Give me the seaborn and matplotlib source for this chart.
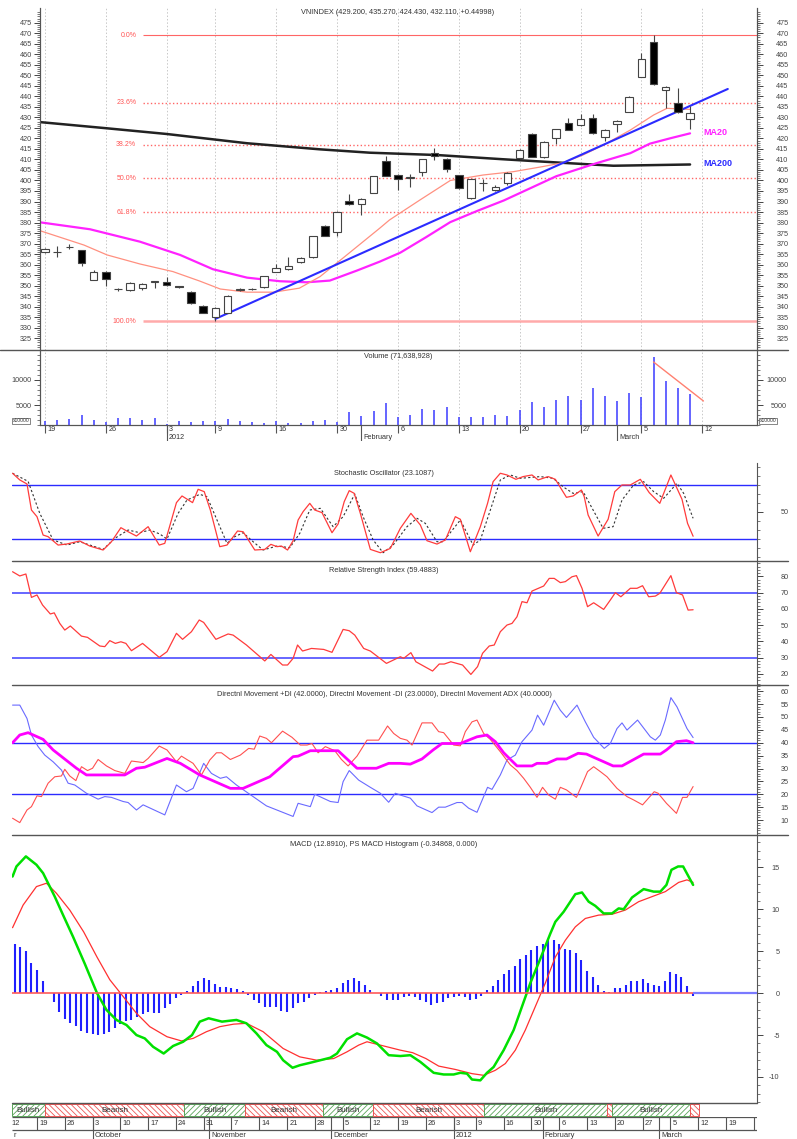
import matplotlib
matplotlib.use("Agg")
import matplotlib.pyplot as plt
from matplotlib.lines import Line2D
from matplotlib.patches import Rectangle
from matplotlib.ticker import FixedLocator
import seaborn as sns
import pandas as pd

# ---------------- price panel data (trading days, 0 = 19 Dec 2011) ----------------
opens = [366.0, 365.8, 368.2, 366.8, 352.7, 356.4, 348.6, 348.0, 349.0, 351.8,
         351.6, 349.6, 347.0, 340.5, 335.3, 337.2, 348.0, 348.3, 349.5, 356.7,
         357.8, 361.1, 363.5, 378.4, 375.4, 390.4, 388.8, 394.2, 409.4, 402.6,
         401.4, 404.2, 413.2, 410.2, 402.6, 391.5, 399.0, 395.5, 398.7, 410.6,
         422.0, 411.0, 420.0, 427.2, 426.4, 429.6, 420.5, 426.9, 432.7, 449.3,
         466.0, 443.0, 436.7, 429.2]
highs = [368.0, 369.0, 369.7, 367.0, 357.2, 356.8, 349.0, 351.8, 351.2, 352.3,
         354.3, 349.9, 347.5, 340.6, 339.8, 345.5, 348.7, 349.0, 354.8, 360.5,
         363.6, 363.5, 373.8, 378.6, 385.4, 393.8, 391.5, 402.3, 411.6, 403.0,
         403.2, 410.3, 415.3, 410.5, 402.8, 400.9, 400.6, 397.8, 404.0, 415.0,
         422.7, 418.6, 424.6, 429.9, 431.5, 431.5, 424.3, 428.7, 440.0, 460.5,
         469.0, 444.8, 443.8, 435.27]
lows = [365.5, 363.5, 367.4, 359.5, 352.5, 350.0, 347.3, 347.5, 347.9, 349.0,
        350.0, 349.1, 341.4, 337.0, 333.4, 337.0, 347.5, 347.8, 349.0, 356.3,
        357.5, 360.9, 363.3, 373.4, 373.8, 388.5, 383.6, 394.0, 402.0, 395.5,
        396.8, 402.3, 409.7, 404.2, 395.8, 391.3, 395.2, 394.8, 398.0, 410.3,
        411.0, 410.8, 417.3, 423.8, 426.0, 422.0, 418.9, 423.2, 432.5, 449.0,
        445.5, 434.3, 432.0, 424.43]
closes = [367.6, 366.0, 368.4, 361.0, 356.7, 353.2, 348.2, 351.3, 350.7, 352.1,
          350.3, 349.4, 341.6, 337.2, 339.5, 345.2, 348.2, 348.5, 354.6, 358.3,
          359.5, 363.0, 373.6, 373.6, 385.2, 388.7, 391.1, 402.1, 402.3, 400.7,
          401.6, 410.1, 411.8, 405.5, 396.3, 400.7, 398.6, 397.0, 403.7, 414.5,
          411.3, 418.4, 424.3, 424.0, 429.1, 422.7, 424.0, 428.5, 439.8, 457.6,
          445.7, 444.6, 432.4, 432.11]
volumes = [1800, 2000, 2200, 3000, 2000, 1700, 2470, 2470, 2000, 2470,
           1200, 1800, 1530, 1800, 1750, 2200, 1800, 1700, 1470, 1800,
           1470, 1500, 1800, 1930, 1700, 3670, 2870, 3870, 5470, 2600,
           3000, 4130, 4000, 4530, 2530, 2600, 2600, 3000, 2800, 4000,
           5670, 4600, 5930, 6800, 6000, 8470, 6800, 5870, 7470, 6530,
           14530, 9870, 8330, 7164]

ma10_pts = [(-0.4, 376.1), (3.2, 369.3), (5.1, 364.6), (7.8, 360.3), (10.5, 356.7),
            (12.7, 352.2), (14.4, 348.4), (16.6, 346.9), (18.8, 346.9), (20.9, 348.8),
            (22.6, 354.3), (24.8, 364.6), (27.5, 377.3), (28.3, 381.2), (30.8, 390.7),
            (33.3, 400.0), (36.0, 402.6), (38.5, 404.2), (40.9, 406.6), (42.6, 408.5),
            (44.2, 412.1), (45.9, 416.9), (48.1, 424.0), (50.0, 431.1), (51.1, 434.3),
            (53.0, 433.8)]
ma20_pts = [(-0.4, 380.1), (3.7, 376.8), (7.8, 370.9), (11.1, 364.6), (13.8, 357.8),
            (16.6, 353.8), (19.3, 352.1), (21.5, 351.6), (23.4, 352.4), (25.6, 357.1),
            (27.5, 361.4), (29.2, 365.7), (31.3, 373.0), (33.3, 380.2), (35.5, 385.5),
            (37.7, 390.5), (42.0, 402.0), (45.3, 408.2), (48.1, 413.0), (49.7, 417.5),
            (51.4, 420.1), (53.0, 422.4)]
ma200_pts = [(-0.5, 427.8), (5.1, 424.8), (10.0, 422.1), (16.6, 417.7), (22.6, 414.8),
             (26.7, 413.2), (32.2, 412.1), (37.6, 410.1), (43.1, 408.2), (46.7, 407.0),
             (53.0, 407.6)]
trend_pts = [(14.0, 334.2), (56.1, 443.5)]
vol_trend_pts = [(50.0, 13600), (54.1, 5800)]

fib_levels = [469.0, 436.9, 417.0, 401.0, 385.0, 333.1]
fib_labels = ['0.0%', '23.6%', '38.2%', '50.0%', '61.8%', '100.0%']

top_tick_days = [0, 5, 10, 14, 19, 24, 29, 34, 39, 44, 49, 54]
top_tick_labels = ['19', '26', '3', '9', '16', '30', '6', '13', '20', '27', '5', '12']
top_month_days = [10, 26, 47]
top_month_labels = ['2012', 'February', 'March']

# ---------------- indicator data (trading days, 0 = 12 Sep 2011) ----------------
stoch_k = [(0.6, 93), (1.9, 85.6), (3.2, 81.1), (4.0, 52.2), (5.0, 44.8), (6.1, 24.4),
           (7.0, 22.6), (8.8, 13.3), (10.3, 14.4), (12.7, 17.8), (14.5, 12.2), (16.9, 7.8),
           (18.4, 17), (20.1, 32.6), (21.4, 28.1), (22.9, 23.3), (25.0, 33.7), (27.0, 13.3),
           (28.0, 15.2), (30.1, 60.4), (31.1, 67.8), (33.0, 60.4), (34.0, 75.2), (35.1, 72.6),
           (36.2, 52.2), (37.9, 11.5), (39.2, 13.3), (41.1, 28.9), (42.1, 28.1), (44.2, 7.8),
           (46.0, 8.5), (47.1, 14.1), (48.2, 11.5), (49.0, 12.2), (50.1, 7.8), (51.1, 18.1),
           (52.0, 41.1), (52.9, 50.4), (54.1, 59.6), (55.0, 52.2), (56.3, 49.3), (58.1, 27),
           (59.2, 36.7), (60.3, 61.5), (61.2, 73.7), (62.1, 70.7), (63.2, 48.5), (65.0, 8.5),
           (66.8, 4.8), (68.6, 9.6), (70.4, 31.9), (72.3, 48.5), (74.0, 35.6), (75.2, 18.1),
           (77.0, 14.4), (78.5, 18.9), (80.3, 44.8), (81.2, 41.9), (83.0, 5.9), (84.8, 33.7),
           (86.1, 59.6), (87.1, 83.7), (88.4, 93), (89.6, 91.1), (91.2, 86.3), (92.5, 89.3),
           (94.1, 91.1), (95.2, 85.6), (97.0, 89.3), (98.3, 86.3), (100.3, 66.3), (101.5, 67.8),
           (103.0, 74.4), (103.5, 67), (104.2, 46.7), (105.2, 33.7), (106.0, 23.3), (107.8, 41.9),
           (109.0, 72.6), (110.3, 80), (111.8, 80), (113.6, 86.3), (115.2, 71.5), (117.1, 59.6),
           (119.1, 91.1), (121.1, 64.1), (122.1, 37.4), (123.1, 23.1)]
stoch_d = [(0.6, 93), (3.4, 84), (5.5, 48.5), (7.9, 19), (10.4, 13.3), (12.7, 17),
           (16.9, 8.5), (19.0, 20.7), (21.4, 30), (23.5, 27), (25.3, 30), (27.1, 25.6),
           (28.4, 20), (30.4, 48.5), (32.0, 63.3), (34.3, 69.6), (35.6, 67), (37.4, 41.1),
           (39.2, 15.2), (40.6, 22.6), (42.1, 27), (43.9, 17), (45.7, 7.8), (48.2, 12.2),
           (50.5, 10.4), (52.3, 26.3), (54.1, 52.2), (56.0, 54.1), (58.3, 33.7), (60.1, 44.8),
           (62.2, 70), (63.7, 44.8), (65.5, 19), (67.3, 4.8), (69.1, 13.3), (71.6, 33.7),
           (73.4, 43), (74.9, 37.4), (77.0, 17), (78.1, 17), (81.2, 41.1), (83.5, 13.3),
           (84.8, 18.9), (86.6, 52.2), (88.4, 85.6), (90.2, 91.1), (92.0, 87.4), (95.6, 89.3),
           (97.9, 87.4), (99.7, 78), (101.5, 70.7), (103.3, 72.6), (105.1, 52.2), (106.9, 31.9),
           (108.7, 33.7), (110.3, 63.3), (112.4, 80), (114.2, 83.7), (116.0, 72.6), (117.8, 65.2),
           (120.2, 81.9), (121.4, 70.7), (123.1, 43)]

rsi = [(0.6, 82.9), (1.9, 80.3), (3.0, 81.5), (4.0, 67.1), (5.0, 68.6), (6.0, 62.4),
       (7.4, 56.9), (8.1, 57.6), (9.1, 51.1), (10.0, 47), (11.0, 49.5), (13.0, 43.3),
       (14.1, 42.5), (16.3, 37.2), (17.2, 36.8), (18.1, 40.5), (19.1, 38.8), (20.1, 39.8),
       (21.0, 38.8), (22.0, 34.3), (24.0, 38.8), (27.0, 30.2), (28.4, 33.7), (30.1, 45),
       (31.2, 41.3), (32.8, 46), (34.2, 53.2), (35.0, 51.7), (37.2, 41.3), (39.4, 44.6),
       (40.3, 43.9), (42.7, 37.8), (46.0, 28), (47.1, 32), (49.2, 25.5), (50.1, 25.5),
       (51.1, 29.6), (51.9, 37.8), (52.8, 34.1), (54.4, 35.7), (56.6, 35.1), (58.1, 33.3),
       (60.1, 47.4), (61.2, 46.6), (62.2, 43.9), (63.8, 35.7), (65.0, 34.1), (67.9, 26.5),
       (70.4, 30.6), (71.0, 29.6), (72.3, 33.1), (73.2, 27.5), (76.2, 21.8), (77.4, 26.1),
       (78.3, 26.1), (79.5, 27.5), (81.6, 25.5), (83.1, 19.7), (84.3, 24.5), (85.2, 32.7),
       (86.4, 37.2), (87.3, 37.8), (88.4, 46), (89.6, 50.1), (90.5, 51.1), (91.4, 55.2),
       (92.3, 64.5), (93.2, 63.8), (94.1, 71), (96.2, 74.1), (97.2, 78.8), (98.1, 78.8),
       (99.2, 76.2), (100.1, 76.8), (101.3, 79.8), (102.1, 80.5), (103.1, 72.7), (104.1, 61.4),
       (105.2, 63.8), (107.0, 59.7), (108.2, 65.5), (109.1, 70), (110.1, 67.5), (111.8, 72.7),
       (113.0, 72.7), (114.0, 74.3), (115.1, 67.5), (116.3, 67.9), (117.1, 69.6), (119.1, 80.5),
       (120.1, 70), (121.2, 68.6), (122.2, 59.3), (123.1, 59.5)]

plus_di = [(0.6, 54.6), (1.9, 54.6), (3.2, 49.4), (4.0, 43), (5.2, 38.5), (6.4, 35.2),
           (7.9, 32.6), (9.4, 29.4), (10.6, 24.3), (11.8, 23.6), (13.9, 20.4), (16.0, 18.1),
           (17.2, 19.1), (18.4, 18.8), (20.5, 17.2), (21.4, 16.8), (22.9, 13.9), (24.1, 15.9),
           (28.0, 12), (30.1, 23.6), (31.9, 21), (33.1, 22.3), (35.0, 32), (36.4, 28.1),
           (38.0, 26.2), (39.1, 26.8), (40.9, 23.6), (43.9, 19.1), (46.3, 15.5), (51.1, 11.4),
           (52.0, 16.5), (54.2, 15.2), (55.0, 20), (57.8, 17.2), (59.2, 16.8), (60.1, 24.9),
           (61.2, 29.2), (62.9, 25.5), (65.0, 22.7), (66.8, 20.4), (68.3, 16.9), (69.5, 20.4),
           (70.4, 19.7), (72.2, 18.5), (73.4, 15.5), (76.1, 12.9), (77.3, 15), (78.5, 15),
           (80.6, 16.8), (81.5, 16.8), (82.7, 14.6), (84.2, 13), (86.1, 22.7), (86.9, 21.9),
           (88.4, 27.5), (89.6, 33.3), (91.1, 35.2), (92.3, 40.4), (94.1, 44.9), (95.1, 50.7),
           (96.2, 46.8), (98.1, 56.5), (99.2, 52.6), (100.3, 49.8), (102.2, 54.6), (103.7, 48.1),
           (105.2, 42.1), (107.1, 37.8), (108.2, 39.7), (109.4, 45.5), (110.3, 47.7), (111.2, 44.9),
           (113.1, 48.8), (115.4, 42.3), (116.3, 41), (117.2, 43), (118.1, 48.8), (119.1, 57.5),
           (120.2, 53.9), (122.0, 45.5), (123.1, 42)]
minus_di = [(0.6, 10.7), (1.9, 9), (3.2, 13.9), (4.0, 15.2), (5.0, 19.4), (5.8, 19.1),
            (7.0, 24.3), (8.2, 26.8), (9.4, 27.1), (10.0, 29.7), (10.9, 27.1), (12.0, 25.3),
            (13.0, 30.7), (14.1, 29.2), (15.0, 30.1), (16.0, 33.5), (17.5, 31), (19.0, 29.2),
            (20.8, 28.1), (22.0, 32.9), (23.1, 32.6), (24.1, 32.3), (25.0, 33.9), (27.0, 38.7),
            (28.4, 37.2), (30.1, 32.6), (31.0, 34.8), (33.1, 32), (34.6, 27.5), (36.1, 33.3),
            (37.3, 36.1), (38.2, 36.1), (39.8, 33.5), (41.6, 35.2), (43.1, 37.8), (44.1, 37.5),
            (45.1, 42.6), (46.3, 41.7), (47.2, 40), (49.2, 44.5), (50.9, 42.1), (52.4, 39.1),
            (53.6, 39.1), (54.5, 39.7), (55.6, 36.1), (56.9, 38.5), (58.6, 36.9), (59.8, 33.5),
            (61.0, 31), (62.6, 34.8), (64.4, 41), (66.5, 41), (68.1, 46.5), (69.2, 43.6),
            (70.4, 41.7), (71.6, 41), (72.5, 39.1), (74.3, 47.7), (76.1, 47.7), (77.3, 44.3),
            (78.2, 43.9), (80.0, 39.1), (81.2, 38.8), (82.1, 44.3), (83.3, 48.1), (84.2, 48.8),
            (85.4, 43.6), (86.6, 41.3), (88.4, 36.5), (90.2, 31.4), (91.4, 29.2), (92.6, 26.2),
            (93.8, 22.7), (95.0, 18.8), (96.0, 22.7), (97.1, 19.7), (98.3, 18.1), (99.2, 22.7),
            (100.3, 21.7), (102.1, 18.8), (103.0, 23.2), (104.1, 28.8), (105.2, 30.7), (106.4, 28.8),
            (107.6, 26.8), (109.4, 22.3), (111.2, 19.1), (112.4, 17.8), (114.0, 15.9), (116.1, 21),
            (116.8, 20.4), (118.3, 16.5), (120.1, 12.6), (121.2, 18.8), (122.0, 18.8), (123.1, 23)]
adx = [(0.6, 40), (1.9, 43), (3.4, 43.9), (6.1, 41.3), (7.9, 37.2), (12.1, 30.1),
       (13.9, 27.5), (20.8, 27.5), (22.9, 30.1), (24.4, 30.5), (28.4, 33.9), (30.8, 32),
       (34.3, 27.5), (39.8, 22.3), (42.1, 22.3), (46.9, 26.8), (51.1, 34.6), (52.0, 34.8),
       (54.2, 36.9), (59.2, 36.9), (62.6, 30.1), (66.1, 30.1), (68.3, 32), (70.4, 32),
       (72.2, 31.7), (74.3, 33.7), (76.3, 37.2), (77.9, 39.7), (81.2, 39.7), (84.2, 42.3),
       (86.0, 43), (87.5, 40.4), (89.0, 36.1), (91.4, 31), (94.1, 31), (95.0, 32),
       (96.8, 32), (98.6, 33.7), (100.3, 33.7), (102.4, 35.9), (103.9, 35.6), (108.7, 31),
       (110.3, 31), (114.2, 35.6), (117.2, 35.6), (118.3, 37.2), (120.1, 40.4), (121.9, 40.8),
       (123.1, 40)]

macd = [(0.6, 13.9), (1.3, 15.1), (3.0, 16.3), (4.9, 15.3), (6.1, 14.3), (8.2, 11.5),
        (9.7, 9.3), (11.5, 6.7), (13.6, 3.5), (15.8, 0), (17.5, -2), (19.3, -3.2),
        (21.1, -3.8), (22.9, -5), (24.4, -5.4), (25.9, -6.4), (27.8, -7.2), (29.5, -6.3),
        (31.3, -5.8), (32.9, -5), (34.3, -3.4), (35.9, -3), (38.3, -3.4), (40.9, -3.2),
        (42.7, -3.6), (44.5, -4.8), (46.3, -6.2), (48.2, -7), (49.3, -8), (51.0, -8.9),
        (52.3, -8.6), (54.2, -8.3), (57.8, -7.7), (59.0, -7.2), (60.8, -5.5), (62.6, -4.8),
        (64.4, -5.3), (66.2, -6), (68.3, -7.4), (70.4, -7.5), (72.2, -7.4), (74.0, -8.2),
        (76.4, -9.5), (78.2, -9.7), (80.0, -9.7), (81.2, -9.5), (82.4, -9.6), (83.3, -10.3),
        (84.8, -10.4), (86.0, -9.5), (87.2, -8.8), (89.0, -6.8), (90.8, -4.4), (92.3, -1.6),
        (93.8, 1.2), (95.6, 4.1), (97.4, 7.1), (98.3, 8.5), (99.8, 9.7), (101.9, 11.8),
        (103.1, 12), (104.3, 10.9), (105.5, 10.4), (107.0, 9.5), (108.5, 9.5), (109.7, 10.1),
        (110.6, 10), (112.1, 11.4), (114.2, 12.4), (116.0, 12.1), (117.2, 12.1), (118.3, 12.9),
        (119.2, 14.7), (120.4, 15.1), (121.3, 15.1), (123.1, 12.9)]
macd_signal = [(0.6, 7.8), (2.5, 10.5), (4.9, 12.7), (6.7, 13.1), (8.5, 11.9), (10.9, 9.9),
               (13.4, 7.3), (15.8, 4.3), (18.1, 1.6), (20.5, -0.4), (22.9, -2.4), (25.3, -4),
               (28.4, -5.2), (31.0, -5.7), (33.1, -5.4), (35.5, -4.6), (37.9, -4), (40.4, -3.7),
               (42.7, -3.6), (45.7, -4.6), (49.3, -6.6), (52.3, -7.6), (55.4, -8), (58.4, -7.8),
               (60.8, -7), (62.9, -6.2), (64.4, -5.8), (67.4, -6.3), (70.4, -6.8), (72.6, -7.1),
               (75.0, -7.8), (77.3, -8.7), (80.3, -9.1), (83.3, -9.6), (85.4, -9.8), (87.5, -9.2),
               (89.3, -8.4), (91.1, -6.8), (92.9, -4.4), (94.7, -1.6), (96.5, 1.2), (98.3, 4.3),
               (100.1, 6.3), (101.9, 7.9), (103.7, 8.9), (106.1, 9.3), (108.5, 9.4), (110.9, 9.9),
               (113.3, 10.9), (115.7, 11.5), (118.1, 12.1), (120.5, 13.2), (122.0, 13.5), (123.1, 13.2)]
# histogram: one bar per trading day, days 1..123
macd_hist = [5.9, 5.5, 5.0, 3.6, 2.7, 1.4, 0.0, -1.0, -2.2, -3.1,
             -3.6, -3.9, -4.5, -4.7, -4.9, -5.0, -4.9, -4.6, -4.1, -3.7,
             -3.3, -3.2, -2.8, -2.5, -2.3, -2.4, -2.4, -1.8, -1.3, -0.6,
             -0.2, 0.2, 0.8, 1.4, 1.8, 1.6, 1.1, 0.7, 0.7, 0.6,
             0.5, 0.2, -0.2, -0.8, -1.2, -1.6, -1.6, -1.6, -2.1, -2.2,
             -1.8, -1.2, -1.0, -0.6, -0.2, 0.1, 0.2, 0.4, 0.6, 1.2,
             1.6, 1.8, 1.5, 1.0, 0.4, 0.0, -0.4, -0.8, -0.8, -0.8,
             -0.5, -0.4, -0.5, -0.8, -1.0, -1.4, -1.2, -1.0, -0.6, -0.5,
             -0.3, -0.5, -0.8, -0.7, -0.3, 0.4, 0.9, 1.6, 2.3, 2.8,
             3.2, 4.1, 4.5, 5.1, 5.6, 5.8, 6.3, 6.3, 5.8, 5.2,
             5.1, 4.8, 3.9, 2.6, 1.9, 1.0, 0.2, 0.1, 0.6, 0.6,
             1.0, 1.4, 1.5, 1.7, 1.2, 1.0, 0.9, 1.4, 2.5, 2.3,
             1.9, 0.8, -0.35]
hist_days = list(range(1, 124))

band_starts = [0.5, 6.4, 31.5, 42.5, 56.5, 65.5, 85.5, 107.6, 108.5, 122.6]
band_ends = [6.4, 31.5, 42.5, 56.5, 65.5, 85.5, 107.6, 108.5, 122.6, 124.2]
band_kinds = ['Bullish', 'Bearish', 'Bullish', 'Bearish', 'Bullish', 'Bearish',
              'Bullish', 'Bearish', 'Bullish', 'Bearish']

low_tick_days = [0, 5, 10, 15, 20, 25, 30, 35, 40, 45, 50, 55, 60, 65, 70, 75, 80,
                 84, 89, 94, 99, 104, 109, 114, 119, 124, 129]
low_tick_labels = ['12', '19', '26', '3', '10', '17', '24', '31', '7', '14', '21', '28',
                   '5', '12', '19', '26', '3', '9', '16', '30', '6', '13', '20', '27',
                   '5', '12', '19']
low_month_days = [0.5, 15, 36, 58, 80, 96, 117]
# the September label is cut at the left edge in the source, only its last letter shows
low_month_labels = ['r', 'October', 'November', 'December', '2012', 'February', 'March']

# ---------------- styling ----------------
sns.set_style("white")
plt.rcParams['font.family'] = ['Liberation Sans', 'DejaVu Sans']
plt.rcParams['hatch.linewidth'] = 0.6
plt.rcParams['axes.unicode_minus'] = False
EDGE = '#555555'
TXT = '#333333'

W, H = 797, 1139
fig = plt.figure(figsize=(W / 100, H / 100), dpi=100)


def box(l, t, r, b):
    return fig.add_axes([l / W, 1 - b / H, (r - l) / W, (b - t) / H])


def ftext(x, y, s, **kw):
    fig.text(x / W, 1 - y / H, s, **kw)


def hline(y, x0, x1, color=EDGE, lw=1.0):
    fig.add_artist(Line2D([x0 / W, x1 / W], [1 - y / H] * 2, color=color, lw=lw))


def draw_line(ax, pts, color, lw, ls='-'):
    df = pd.DataFrame(pts, columns=['day', 'value'])
    sns.lineplot(data=df, x='day', y='value', ax=ax, color=color,
                 linewidth=lw, linestyle=ls, estimator=None, legend=False)
    ax.set_xlabel('')
    ax.set_ylabel('')


def right_axis(ax, major, minor, right_edge):
    # labels right-aligned at pixel column right_edge
    ax.yaxis.set_major_locator(FixedLocator(major))
    ax.yaxis.set_minor_locator(FixedLocator(minor))
    ax.tick_params(axis='y', which='both', left=False, labelleft=False,
                   right=True, labelright=True, direction='out', colors='#444444',
                   labelsize=5.2)
    ax.tick_params(axis='y', which='major', length=4, width=0.7,
                   pad=(right_edge - 757 - 4) * 0.72)
    ax.tick_params(axis='y', which='minor', length=2, width=0.5)
    for t in ax.yaxis.get_major_ticks():
        t.label2.set_horizontalalignment('right')


TOP_X = (-0.41, 58.5)
LOW_X = (0.5, 134.6)

# ================= price panel =================
ax_p = box(40, 8, 757, 350)
ax_p.set_xlim(*TOP_X)
ax_p.set_ylim(319.4, 482)
for d in top_tick_days:
    ax_p.axvline(d, color='#c8c8c8', lw=0.7, ls=(0, (1.5, 2)), zorder=0)

fib_styles = ['-', ':', ':', ':', ':', '-']
fib_colors = ['#ff6666', '#ff6666', '#ff6666', '#ff6666', '#ff6666', '#ffaaaa']
fib_widths = [0.8, 1.0, 1.0, 1.0, 1.0, 1.8]
for lvl, lab, st, col, lw in zip(fib_levels, fib_labels, fib_styles, fib_colors, fib_widths):
    ax_p.hlines(lvl, 8.06, TOP_X[1], color=col, lw=lw, linestyles=st, zorder=1)
    ax_p.text(7.5, lvl, lab, color='#ff5555', fontsize=5, ha='right', va='center')

draw_line(ax_p, ma200_pts, '#222222', 1.8)
draw_line(ax_p, ma20_pts, '#ff22ff', 1.6)
draw_line(ax_p, ma10_pts, '#ff9080', 0.9)
draw_line(ax_p, trend_pts, '#2b2bff', 1.5)

# candlesticks
days = list(range(len(opens)))
for d, o, h, l, c in zip(days, opens, highs, lows, closes):
    up = c >= o
    ax_p.vlines(d, l, h, color='#444444', lw=0.8, zorder=3)
    ax_p.bar(d, max(abs(c - o), 0.3), bottom=min(o, c), width=0.62,
             color='white' if up else 'black', edgecolor='#444444',
             linewidth=0.8, zorder=4)

ax_p.text(54.1, 422.8, 'MA20', color='#ff22ff', fontsize=6.5, fontweight='bold', va='center')
ax_p.text(54.1, 408.0, 'MA200', color='#2b2bff', fontsize=6.5, fontweight='bold', va='center')

ax_p.set_xticks([])
ax_p.yaxis.set_major_locator(FixedLocator(range(325, 476, 5)))
ax_p.yaxis.set_minor_locator(FixedLocator(range(321, 481)))
ax_p.tick_params(axis='y', which='both', left=True, right=False, labelleft=True,
                 direction='out', colors='#444444', labelsize=5.2)
ax_p.tick_params(axis='y', which='major', length=4, width=0.7, pad=2)
ax_p.tick_params(axis='y', which='minor', length=2, width=0.5)
ax_pr = ax_p.twinx()
ax_pr.set_ylim(ax_p.get_ylim())
right_axis(ax_pr, range(325, 476, 5), range(321, 481), 787)
for a in (ax_p, ax_pr):
    a.spines['top'].set_visible(False)
    a.spines['bottom'].set_visible(False)
    a.spines['left'].set_color(EDGE)
    a.spines['right'].set_color(EDGE)
hline(350, 0, 788)

ftext(398, 13, 'VNINDEX (429.200, 435.270, 424.430, 432.110, +0.44998)',
      fontsize=5.3, color=TXT, ha='center', va='center')

# ================= volume panel =================
ax_v = box(40, 350, 757, 425)
ax_v.set_xlim(*TOP_X)
ax_v.set_ylim(1000, 16000)
for d in top_tick_days:
    ax_v.axvline(d, color='#c8c8c8', lw=0.7, ls=(0, (1.5, 2)), zorder=0)
ax_v.vlines(days, 1000, volumes, color='#4a4aff', lw=1.2, zorder=2)
draw_line(ax_v, vol_trend_pts, '#ff8070', 1.0)
ax_v.set_xticks([])
ax_v.yaxis.set_major_locator(FixedLocator([5000, 10000]))
ax_v.yaxis.set_minor_locator(FixedLocator(range(1000, 16001, 1000)))
ax_v.tick_params(axis='y', which='both', left=True, labelleft=True, direction='out',
                 colors='#444444', labelsize=5.2)
ax_v.tick_params(axis='y', which='major', length=4, width=0.7, pad=2)
ax_v.tick_params(axis='y', which='minor', length=2, width=0.5)
ax_vr = ax_v.twinx()
ax_vr.set_ylim(ax_v.get_ylim())
right_axis(ax_vr, [5000, 10000], range(1000, 16001, 1000), 785)
for a in (ax_v, ax_vr):
    a.spines['top'].set_visible(False)
    for s in ('left', 'right', 'bottom'):
        a.spines[s].set_color(EDGE)
ftext(398, 356, 'Volume (71,638,928)', fontsize=5.3, color=TXT, ha='center', va='center')
for xc in (21, 768):
    ftext(xc, 421, 'x10000', fontsize=3.6, color=TXT, ha='center', va='center',
          bbox=dict(boxstyle='square,pad=0.15', fc='white', ec=EDGE, lw=0.5))

# top date axis
ax_d = box(40, 425, 757, 441)
ax_d.set_xlim(*TOP_X)
ax_d.set_ylim(1, 0)
ax_d.axis('off')
ax_d.vlines(top_tick_days, 0, 0.5, color=EDGE, lw=0.8)
for d, lab in zip(top_tick_days, top_tick_labels):
    ax_d.text(d + 0.2, 0.25, lab, fontsize=5.2, color=TXT, ha='left', va='center')
ax_d.vlines(top_month_days, 0, 1, color=EDGE, lw=0.8)
for d, lab in zip(top_month_days, top_month_labels):
    ax_d.text(d + 0.2, 0.78, lab, fontsize=5.2, color=TXT, ha='left', va='center')

# ================= lower indicator panels =================
ax_s = box(12, 463, 757, 561)
ax_r = box(12, 561, 757, 685)
ax_m = box(12, 685, 757, 835)
ax_c = box(12, 835, 757, 1103)
for a in (ax_s, ax_r, ax_m, ax_c):
    a.set_xlim(*LOW_X)
    a.set_xticks([])
    for s in ('top', 'bottom', 'left'):
        a.spines[s].set_visible(False)
    a.spines['right'].set_color(EDGE)

# stochastic
ax_s.set_ylim(-4.4, 104.4)
for lvl in (80, 20):
    ax_s.axhline(lvl, color='#2b2bff', lw=1.0, zorder=1)
draw_line(ax_s, stoch_d, '#333333', 0.8, ls=(0, (2, 2)))
draw_line(ax_s, stoch_k, '#ff3b3b', 0.9)
right_axis(ax_s, [50], range(0, 101, 10), 787)
ftext(384, 473, 'Stochastic Oscillator (23.1087)', fontsize=5.3, color=TXT,
      ha='center', va='center')

# RSI
ax_r.set_ylim(13.2, 89.5)
for lvl in (70, 30):
    ax_r.axhline(lvl, color='#5a5aff', lw=1.3, zorder=1)
draw_line(ax_r, rsi, '#ff3b3b', 0.9)
right_axis(ax_r, range(20, 81, 10), range(14, 89, 2), 787)
ftext(384, 570, 'Relative Strength Index (59.4883)', fontsize=5.3, color=TXT,
      ha='center', va='center')

# directional movement
ax_m.set_ylim(4.2, 62.4)
for lvl in (40, 20):
    ax_m.axhline(lvl, color='#2b2bff', lw=1.0, zorder=1)
draw_line(ax_m, plus_di, '#6a6aff', 0.8)
draw_line(ax_m, minus_di, '#ff5050', 0.8)
draw_line(ax_m, adx, '#ff00ff', 2.0)
right_axis(ax_m, range(10, 61, 5), range(5, 63), 787)
ftext(384, 695, 'Directnl Movement +DI (42.0000), Directnl Movement -DI (23.0000), '
      'Directnl Movement ADX (40.0000)', fontsize=5.3, color=TXT, ha='center', va='center')

# MACD
ax_c.set_ylim(-13.1, 18.85)
ax_c.vlines(hist_days, 0, macd_hist, color='#2020ff', lw=1.5, zorder=2)
ax_c.hlines(0, LOW_X[0], 123.1, color='#ff5a5a', lw=1.2, zorder=3)
ax_c.hlines(0, 123.1, LOW_X[1], color='#7a7aff', lw=1.6, zorder=3)
draw_line(ax_c, macd_signal, '#ff3030', 0.9)
draw_line(ax_c, macd, '#00e000', 1.8)
right_axis(ax_c, range(-10, 16, 5), range(-13, 19), 778)
ftext(384, 845, 'MACD (12.8910), PS MACD Histogram (-0.34868, 0.000)', fontsize=5.3,
      color=TXT, ha='center', va='center')

for y in (561, 685, 835):
    hline(y, 12, 788)

# bullish / bearish band
ax_b = box(12, 1103, 757, 1117)
ax_b.set_xlim(*LOW_X)
ax_b.set_ylim(0, 1)
ax_b.axis('off')
for s, e, k in zip(band_starts, band_ends, band_kinds):
    col = '#5aa55a' if k == 'Bullish' else '#ee5555'
    hatch = '//////' if k == 'Bullish' else '\\\\\\\\\\\\'
    ax_b.add_patch(Rectangle((s, 0.04), e - s, 0.92, facecolor='white', edgecolor=col,
                             hatch=hatch, lw=0.7, clip_on=False))
    if e - s > 4:
        ax_b.text((s + e) / 2, 0.5, k, fontsize=5.8, color=TXT, ha='center', va='center')
hline(1103, 12, 757)

# lower date axis
ax_bd = box(12, 1117, 757, 1139)
ax_bd.set_xlim(*LOW_X)
ax_bd.set_ylim(1, 0)
ax_bd.axis('off')
ax_bd.hlines([0.0, 0.57], LOW_X[0], LOW_X[1], color=EDGE, lw=0.9)
ax_bd.vlines(low_tick_days + [134], 0, 0.57, color=EDGE, lw=0.8)
for d, lab in zip(low_tick_days, low_tick_labels):
    ax_bd.text(d + 0.4, 0.3, lab, fontsize=5.4, color=TXT, ha='left', va='center')
ax_bd.vlines(low_month_days[1:], 0, 1, color=EDGE, lw=0.8)
for d, lab in zip(low_month_days, low_month_labels):
    ax_bd.text(d + 0.3, 0.83, lab, fontsize=5.4, color=TXT, ha='left', va='center')

fig.savefig('out.png', dpi=100, facecolor='white')
